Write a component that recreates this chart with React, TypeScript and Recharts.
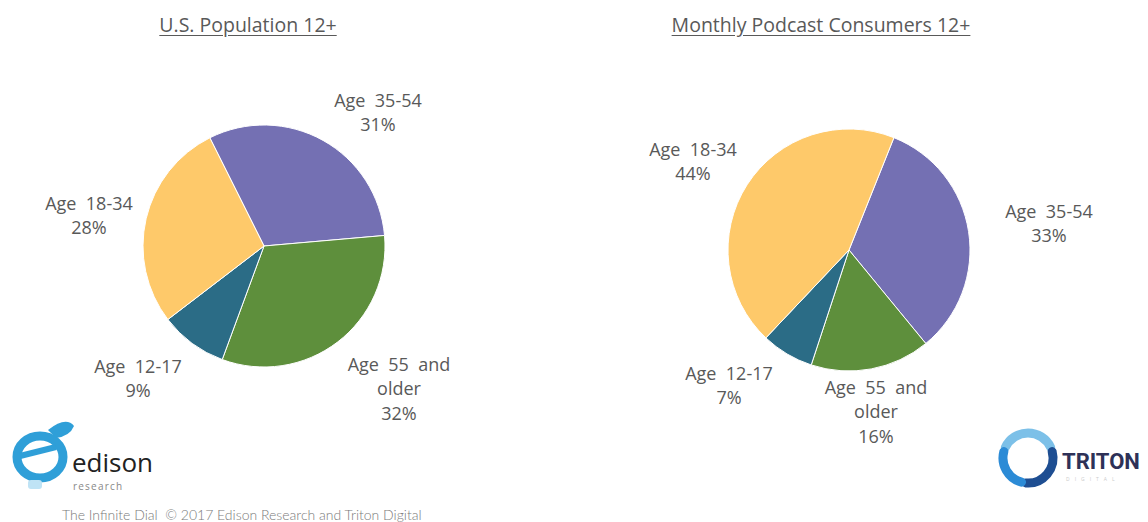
import React from 'react'
import { PieChart, Pie, Cell } from 'recharts'

const ageGroups = ['Age 35-54', 'Age 55 and older', 'Age 12-17', 'Age 18-34']
const usPopulation = [31, 32, 9, 28]
const podcastConsumers = [33, 16, 7, 44]
const sliceColors = ['#7470B3', '#5E8F3C', '#2B6C86', '#FEC96A']

// label lines per age group (text only)
const labelLines: Record<string, string[]> = {
  'Age 35-54': ['Age  35-54'],
  'Age 55 and older': ['Age  55  and', 'older'],
  'Age 12-17': ['Age  12-17'],
  'Age 18-34': ['Age  18-34'],
}

// label anchor offsets from the pie centre, per chart
const leftLabelPos: Record<string, [number, number]> = {
  'Age 35-54': [114, -134],
  'Age 55 and older': [135, 142],
  'Age 12-17': [-126, 132],
  'Age 18-34': [-175, -31],
}
const rightLabelPos: Record<string, [number, number]> = {
  'Age 35-54': [200, -27],
  'Age 55 and older': [27, 161],
  'Age 12-17': [-120, 135],
  'Age 18-34': [-156, -89],
}

const leftData = ageGroups.map((name, i) => ({ name, value: usPopulation[i] }))
const rightData = ageGroups.map((name, i) => ({ name, value: podcastConsumers[i] }))

const FONT = "'Open Sans', 'Noto Sans', sans-serif"

function makeLabel(pos: Record<string, [number, number]>) {
  return (props: any) => {
    const { cx, cy, name, value } = props
    const [dx, dy] = pos[name]
    const lines = [...labelLines[name], `${value}%`]
    const lh = 24.5
    const top = cy + dy - ((lines.length - 1) * lh) / 2
    return (
      <text
        x={cx + dx}
        y={top}
        textAnchor="middle"
        dominantBaseline="central"
        fill="#595959"
        fontSize={18}
        fontFamily={FONT}
        style={{ whiteSpace: 'pre' }}
      >
        {lines.map((l, i) => (
          <tspan key={i} x={cx + dx} dy={i === 0 ? 0 : lh}>
            {l}
          </tspan>
        ))}
      </text>
    )
  }
}

function arc(cx: number, cy: number, r: number, a0: number, a1: number) {
  const p = (a: number) => [cx + r * Math.cos((a * Math.PI) / 180), cy + r * Math.sin((a * Math.PI) / 180)]
  const [x0, y0] = p(a0)
  const [x1, y1] = p(a1)
  return `M${x0} ${y0} A${r} ${r} 0 0 1 ${x1} ${y1}`
}

function EdisonLogo() {
  return (
    <svg width={160} height={80} style={{ position: 'absolute', left: 8, top: 418 }}>
      <ellipse cx={32} cy={39} rx={23} ry={21} fill="none" stroke="#2F9FD8" strokeWidth={9} />
      <path d="M12 38 L48 29" stroke="#2F9FD8" strokeWidth={6} />
      <path d="M40 12 Q58 -2 66 8 Q62 18 48 20 Z" fill="#2F9FD8" />
      <rect x={20} y={62} width={14} height={9} rx={3} fill="#BFE3F5" />
      <text x={64} y={54} fontSize={26} fontFamily={FONT} fill="#222">
        edison
      </text>
      <text x={65} y={72} fontSize={10} fontFamily={FONT} fill="#888" letterSpacing={1.2}>
        research
      </text>
    </svg>
  )
}

function TritonLogo() {
  return (
    <svg width={152} height={70} style={{ position: 'absolute', left: 996, top: 424 }}>
      <path d={arc(32, 34, 25, 205, 335)} fill="none" stroke="#7CC0E8" strokeWidth={9} strokeLinecap="round" />
      <path d={arc(32, 34, 25, 345, 95)} fill="none" stroke="#1E4E92" strokeWidth={9} strokeLinecap="round" />
      <path d={arc(32, 34, 25, 105, 195)} fill="none" stroke="#2C8BD6" strokeWidth={9} strokeLinecap="round" />
      <text x={66} y={45} fontSize={22} fontWeight={700} fontFamily="'Roboto', sans-serif" fill="#2E3157">
        TRITON
      </text>
      <text x={70} y={57} fontSize={5} fontFamily={FONT} fill="#ccc" letterSpacing={5}>
        DIGITAL
      </text>
    </svg>
  )
}

export default function App() {
  const titleStyle: React.CSSProperties = {
    position: 'absolute',
    top: 11,
    fontFamily: FONT,
    fontSize: 19.5,
    color: '#595959',
    textDecoration: 'underline',
    textUnderlineOffset: 3,
    transform: 'translateX(-50%)',
    whiteSpace: 'nowrap',
  }
  return (
    <div style={{ position: 'absolute', left: 0, top: 0, width: 1148, height: 522, background: '#fff', overflow: 'hidden' }}>
      <div style={{ ...titleStyle, left: 248 }}>U.S. Population 12+</div>
      <div style={{ ...titleStyle, left: 821 }}>Monthly Podcast Consumers 12+</div>
      <div style={{ position: 'absolute', left: 0, top: 0 }}>
        <PieChart width={1148} height={522} margin={{ top: 0, right: 0, bottom: 0, left: 0 }}>
          <Pie
            data={leftData}
            dataKey="value"
            nameKey="name"
            cx={264}
            cy={246}
            outerRadius={121}
            startAngle={116.6}
            endAngle={-243.4}
            stroke="#ffffff"
            strokeWidth={1}
            labelLine={false}
            label={makeLabel(leftLabelPos)}
            isAnimationActive={false}
          >
            {leftData.map((d, i) => (
              <Cell key={d.name} fill={sliceColors[i]} />
            ))}
          </Pie>
          <Pie
            data={rightData}
            dataKey="value"
            nameKey="name"
            cx={849}
            cy={250}
            outerRadius={121}
            startAngle={68.2}
            endAngle={-291.8}
            stroke="#ffffff"
            strokeWidth={1}
            labelLine={false}
            label={makeLabel(rightLabelPos)}
            isAnimationActive={false}
          >
            {rightData.map((d, i) => (
              <Cell key={d.name} fill={sliceColors[i]} />
            ))}
          </Pie>
        </PieChart>
      </div>
      <EdisonLogo />
      <TritonLogo />
      <div
        style={{
          position: 'absolute',
          left: 62,
          top: 506,
          fontFamily: "'Lato', sans-serif",
          fontWeight: 300,
          fontSize: 14,
          color: '#7a7a7a',
          whiteSpace: 'pre',
        }}
      >
        The Infinite Dial  © 2017 Edison Research and Triton Digital
      </div>
    </div>
  )
}
